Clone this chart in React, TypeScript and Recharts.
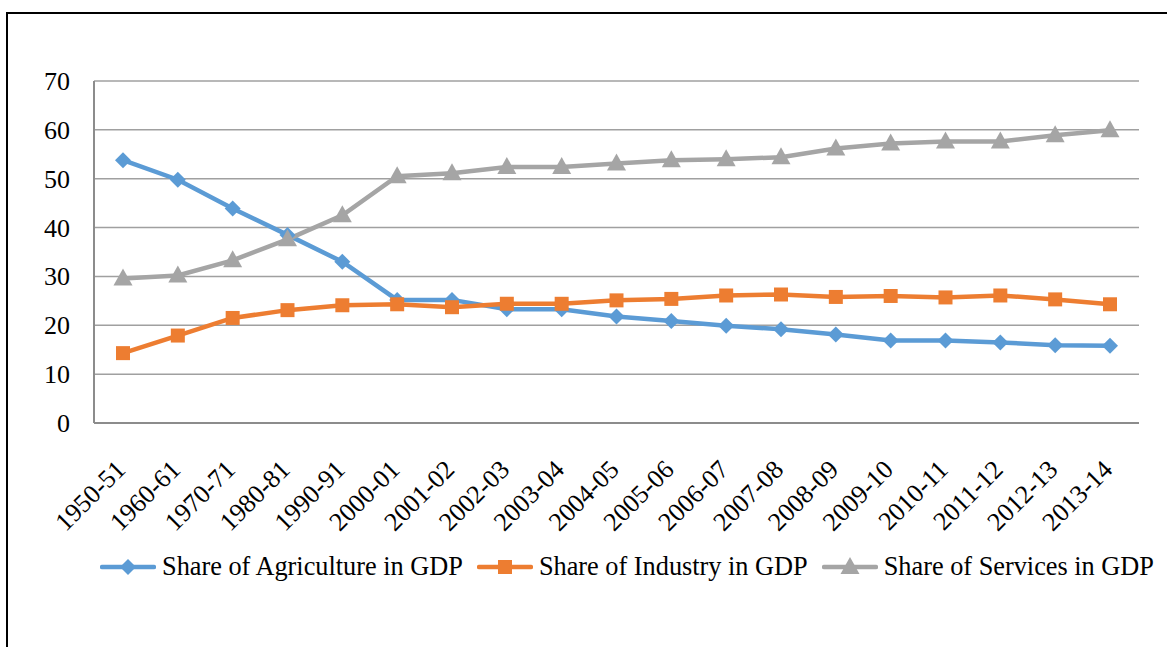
import { LineChart, Line, XAxis, YAxis, CartesianGrid, Legend } from 'recharts';

const years = [
  '1950-51', '1960-61', '1970-71', '1980-81', '1990-91', '2000-01', '2001-02', '2002-03', '2003-04',
  '2004-05', '2005-06', '2006-07', '2007-08', '2008-09', '2009-10', '2010-11', '2011-12', '2012-13', '2013-14',
];
const agriculture = [53.8, 49.8, 43.9, 38.5, 33.0, 25.2, 25.2, 23.3, 23.3, 21.8, 20.9, 19.9, 19.2, 18.1, 16.9, 16.9, 16.5, 15.9, 15.8];
const industry = [14.3, 17.9, 21.5, 23.1, 24.1, 24.3, 23.7, 24.4, 24.4, 25.1, 25.4, 26.1, 26.3, 25.8, 26.0, 25.7, 26.1, 25.3, 24.3];
const services = [29.6, 30.2, 33.3, 37.6, 42.5, 50.5, 51.1, 52.4, 52.4, 53.1, 53.8, 54.0, 54.4, 56.2, 57.2, 57.6, 57.6, 58.9, 59.9];
const yTicks = [0, 10, 20, 30, 40, 50, 60, 70];

const data = years.map((year, i) => ({
  year,
  agri: agriculture[i],
  ind: industry[i],
  serv: services[i],
}));

const FONT = 'Liberation Serif';
const BLUE = '#5B9BD5';
const ORANGE = '#ED7D31';
const GRAY = '#A5A5A5';

const series = [
  { key: 'agri', name: 'Share of Agriculture in GDP', color: BLUE, shape: 'diamond' },
  { key: 'ind', name: 'Share of Industry in GDP', color: ORANGE, shape: 'square' },
  { key: 'serv', name: 'Share of Services in GDP', color: GRAY, shape: 'triangle' },
];

function markerPath(shape: string, cx: number, cy: number) {
  if (shape === 'diamond') return `M${cx},${cy - 8}L${cx + 8},${cy}L${cx},${cy + 8}L${cx - 8},${cy}Z`;
  if (shape === 'square') return `M${cx - 7},${cy - 7}h14v14h-14Z`;
  return `M${cx},${cy - 10}L${cx + 9.5},${cy + 7}L${cx - 9.5},${cy + 7}Z`;
}

const makeDot = (shape: string, color: string) => (props: any) => {
  const { cx, cy, index } = props;
  if (cx == null || cy == null) return <g key={index} />;
  return <path key={index} d={markerPath(shape, cx, cy)} fill={color} stroke="none" />;
};

const XTick = (props: any) => {
  const { x, y, payload } = props;
  const ax = x + 4;
  const ay = y + 46;
  return (
    <text x={ax} y={ay} transform={`rotate(-45 ${ax} ${ay})`} textAnchor="end" fontSize={26} fontFamily={FONT} fill="#000">
      {payload.value}
    </text>
  );
};

const YTick = (props: any) => {
  const { x, y, payload } = props;
  return (
    <text x={x} y={y} dy={9} textAnchor="end" fontSize={26} fontFamily={FONT} fill="#000">
      {payload.value}
    </text>
  );
};

const LegendContent = () => (
  <div style={{ display: 'flex', alignItems: 'center', height: 30, fontFamily: FONT, fontSize: 26.3, color: '#000' }}>
    {series.map((s) => (
      <div key={s.key} style={{ display: 'flex', alignItems: 'center', marginRight: 14 }}>
        <svg width={56} height={24} style={{ marginRight: 6 }}>
          <line x1={2} y1={12} x2={54} y2={12} stroke={s.color} strokeWidth={4.5} strokeLinecap="round" />
          <path d={markerPath(s.shape, 28, 12)} fill={s.color} />
        </svg>
        <span style={{ whiteSpace: 'nowrap' }}>{s.name}</span>
      </div>
    ))}
  </div>
);

export default function App() {
  return (
    <div style={{ position: 'fixed', left: 0, top: 0, width: 1167, height: 647, background: '#fff', overflow: 'hidden' }}>
      <div style={{ position: 'absolute', left: 6, top: 12, width: 1167, height: 647, borderTop: '2px solid #000', borderLeft: '2px solid #000' }} />
      <div style={{ position: 'absolute', left: 0, top: 0 }}>
        <LineChart width={1167} height={647} data={data} margin={{ top: 81, right: 28, left: 0, bottom: 65 }}>
          <CartesianGrid vertical={false} stroke="#A0A0A0" strokeWidth={1.5} />
          <XAxis
            dataKey="year"
            interval={0}
            padding={{ left: 29, right: 29 }}
            height={129}
            tick={<XTick />}
            tickLine={false}
            tickSize={0}
            stroke="#8C8C8C"
            strokeWidth={2}
          />
          <YAxis
            domain={[0, 70]}
            ticks={yTicks}
            width={94}
            tickLine={false}
            tickSize={0}
            tickMargin={24}
            stroke="#8C8C8C"
            strokeWidth={2}
            tick={<YTick />}
          />
          <Legend
            verticalAlign="bottom"
            content={<LegendContent />}
            wrapperStyle={{ left: 100, width: 1067 }}
          />
          {series.map((s) => (
            <Line
              key={s.key}
              type="linear"
              dataKey={s.key}
              name={s.name}
              stroke={s.color}
              strokeWidth={4.5}
              dot={makeDot(s.shape, s.color)}
              activeDot={false}
              isAnimationActive={false}
            />
          ))}
        </LineChart>
      </div>
    </div>
  );
}
